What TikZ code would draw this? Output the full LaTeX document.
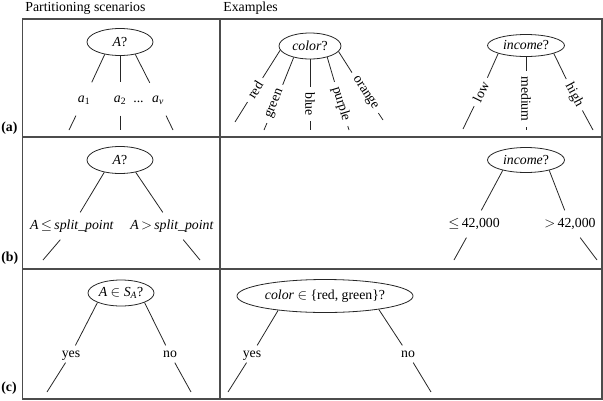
\documentclass[tikz,border=0pt]{standalone}
\usepackage{fontspec}
\setmainfont{Liberation Serif}
\usepackage{tikz}
\usetikzlibrary{shapes, positioning}
\tikzset{
    test/.style={
        ellipse,
        draw=black!85,
        inner sep=0pt,
        minimum width=66pt,
        minimum height=27pt,
    },
    branch/.style={
        inner xsep=2pt,
        inner ysep=2pt,
        text height=9.5pt,
        text depth=3pt,
    },
    value/.style={
        inner xsep=5pt,
        inner ysep=1pt,
    },
    frame/.style={
        line width=1.1pt,
        draw=black!70,
    },
}

\begin{document}
\begin{tikzpicture}[x=1pt, y=-1pt, line width=0.8pt, draw=black!85,
    every node/.style={font=\fontsize{13.8}{16}\selectfont}]
      \useasboundingbox (0,0) rectangle (603,400);

      % table
      \draw[frame] (22.5,19) rectangle (602,399);
      \draw[frame] (22.5,137) -- (602,137);
      \draw[frame] (22.5,269) -- (602,269);
      \draw[frame] (220,19) -- (220,399);

      \node[anchor=base west, inner sep=0pt] (scen) at (25,11.7) {Partitioning scenarios};
      \node[anchor=base west, inner sep=0pt] (exam) at (223,11.7) {Examples};
      \node[anchor=base west, inner sep=0pt] (rowa) at (1,131.5) {\textbf{(a)}};
      \node[anchor=base west, inner sep=0pt] (rowb) at (1,261.5) {\textbf{(b)}};
      \node[anchor=base west, inner sep=0pt] (rowc) at (1,391.5) {\textbf{(c)}};

      % (a) discrete values
      \node[test] (qa) at (120,42) {\textit{A}?};
      \node[branch, inner ysep=10pt] (a1) at (84,99) {\textit{a}\textsubscript{1}};
      \node[branch, inner ysep=10pt] (a2) at (120,99) {\textit{a}\textsubscript{2}};
      \node[branch, inner ysep=10pt] (av) at (158,99) {\textit{a}\textsubscript{\textit{v}}};
      \node[anchor=base, inner sep=0pt] (dots) at (138.5,102.2) {...};
      \coordinate (a1end) at (69,130);
      \coordinate (a2end) at (120,130);
      \coordinate (avend) at (173,130);
      \draw (qa.219) -- (a1) -- (a1end);
      \draw (qa.270) -- (a2) -- (a2end);
      \draw (qa.321) -- (av) -- (avend);

      \node[test, minimum width=62pt, minimum height=26pt] (qcolor) at (310,46) {\textit{color}?};
      \node[value, rotate=58] (red) at (255,90) {red};
      \node[value, rotate=68] (green) at (275,104) {green};
      \node[value, rotate=-90] (blue) at (310,104) {blue};
      \node[value, rotate=-73] (purple) at (341,104) {purple};
      \node[value, rotate=-57] (orange) at (365,93) {orange};
      \coordinate (redend) at (235,122);
      \coordinate (greenend) at (264,130);
      \coordinate (blueend) at (310,130);
      \coordinate (purpleend) at (349,130);
      \coordinate (orangeend) at (383,120);
      \draw (qcolor.188) -- (red) -- (redend);
      \draw (qcolor.215) -- (green) -- (greenend);
      \draw (qcolor.270) -- (blue) -- (blueend);
      \draw (qcolor.327) -- (purple) -- (purpleend);
      \draw (qcolor.349) -- (orange) -- (orangeend);

      \node[test, minimum width=77pt, minimum height=22pt] (qinc) at (526,45.5) {\textit{income}?};
      \node[value, rotate=64] (low) at (481,92) {low};
      \node[value, rotate=-90] (medium) at (526,99) {medium};
      \node[value, rotate=-62] (high) at (574,95) {high};
      \coordinate (lowend) at (463,129);
      \coordinate (mediumend) at (526,130);
      \coordinate (highend) at (593,130);
      \draw (qinc.196) -- (low) -- (lowend);
      \draw (qinc.270) -- (medium) -- (mediumend);
      \draw (qinc.344) -- (high) -- (highend);

      % (b) continuous values
      \node[test] (qb) at (120,160) {\textit{A}?};
      \node[branch, inner ysep=7pt] (le) at (72,226) {\textit{A}\,$\leq$\,\textit{split\_point}};
      \node[branch, inner ysep=7pt] (gt) at (172,226) {\textit{A}\,$>$\,\textit{split\_point}};
      \coordinate (leend) at (43,260);
      \coordinate (gtend) at (200,260);
      \draw (qb.218) -- (le) -- (leend);
      \draw (qb.322) -- (gt) -- (gtend);

      \node[test, minimum width=77pt, minimum height=25pt] (qincb) at (526,160) {\textit{income}?};
      \node[branch, inner ysep=7pt] (le42) at (474,224) {$\leq$\,42,000};
      \node[branch, inner ysep=7pt] (gt42) at (570,224) {$>$\,42,000};
      \coordinate (le42end) at (454,260);
      \coordinate (gt42end) at (597,260);
      \draw (qincb.204) -- (le42) -- (le42end);
      \draw (qincb.336) -- (gt42) -- (gt42end);

      % (c) binary tree
      \node[test, minimum height=26pt] (qc) at (121,293) {\textit{A} $\in$ \textit{S}\textsubscript{\textit{A}}?};
      \node[branch] (yes) at (71,354) {yes};
      \node[branch] (no) at (170,354) {no};
      \coordinate (yesend) at (47,392);
      \coordinate (noend) at (191,392);
      \draw (qc.202) -- (yes) -- (yesend);
      \draw (qc.338) -- (no) -- (noend);

      \node[test, minimum width=176pt, minimum height=33pt] (qcolc) at (325,296) {\textit{color} $\in$ \{red, green\}?};
      \node[branch] (yesc) at (252,354) {yes};
      \node[branch] (noc) at (408,354) {no};
      \coordinate (yescend) at (228,392);
      \coordinate (nocend) at (431,392);
      \draw (qcolc.197) -- (yesc) -- (yescend);
      \draw (qcolc.346) -- (noc) -- (nocend);

    \end{tikzpicture}
\end{document}
